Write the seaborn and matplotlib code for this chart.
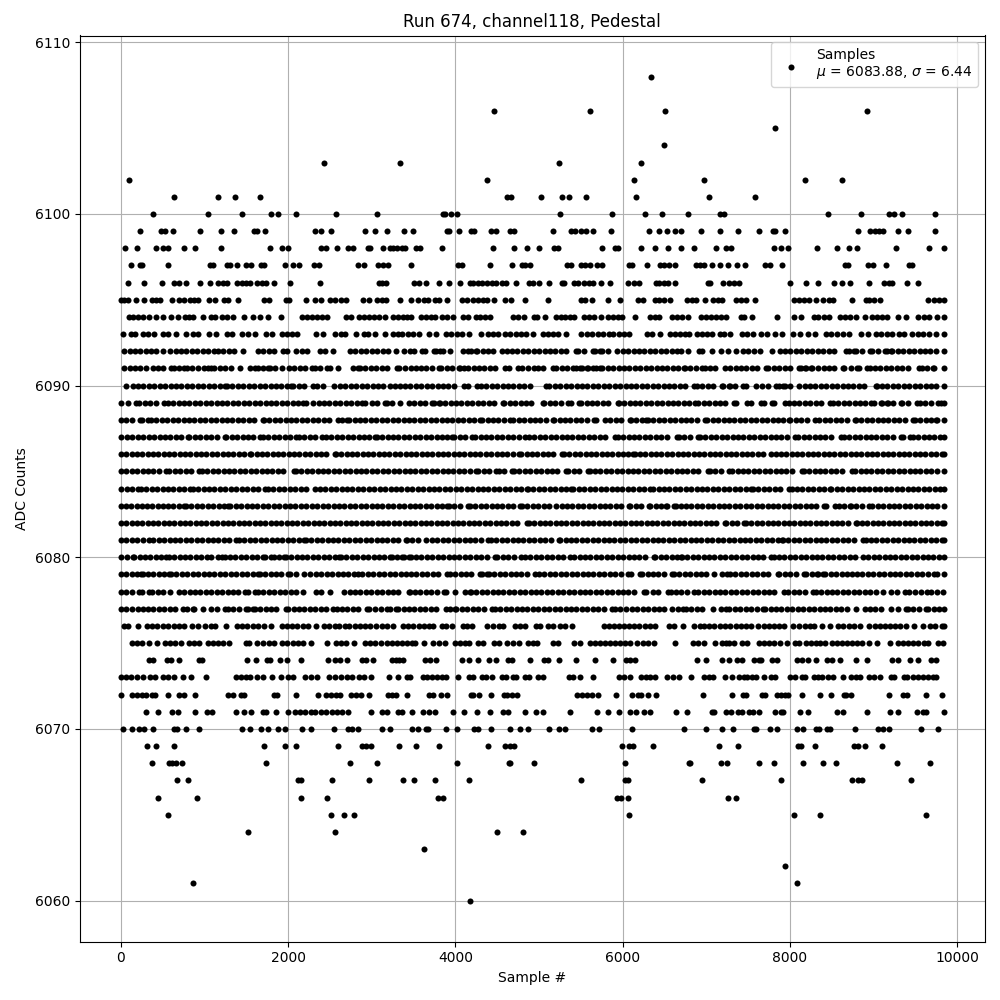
import matplotlib
matplotlib.use('Agg')
import matplotlib.pyplot as plt
import pandas as pd
import seaborn as sns

# sample numbers, one list per ADC level
s6060 = [4176]
s6061 = [864, 8084]
s6062 = [7940]
s6063 = [3624]
s6064 = [1524, 2556, 4500, 4812]
s6065 = [564, 2508, 2664, 2784, 6072, 8048, 8360, 9632]
s6066 = [444, 912, 2160, 2460, 3792, 3852, 5928, 5976, 6060, 7256, 7352]
s6067 = [672, 804, 2124, 2160, 2520, 2964, 3372, 3504, 3756, 4164, 5496, 6024, 6060, 6944, 7892, 8744, 8816, 8864, 9452]
s6068 = [372, 576, 612, 660, 732, 1740, 2736, 3060, 4020, 4644, 4656, 4944, 6024, 6792, 6800, 7172, 7244, 7628, 7808, 8156, 8396, 8552, 9284, 9680]
s6069 = [312, 420, 636, 1716, 1968, 2100, 2592, 2880, 2928, 2988, 3324, 3528, 3804, 4392, 4596, 4656, 4704, 5988, 6072, 6120, 6360,
         7148, 7376, 8096, 8132, 8300, 8768, 8816, 8900, 9104]
s6070 = [24, 132, 216, 276, 384, 636, 672, 780, 936, 1452, 1548, 1680, 1764, 1884, 1968, 2172, 2268, 2544, 2712, 2760, 2832, 3120, 3224,
         3480, 3552, 3648, 3672, 3888, 4020, 4224, 4272, 4428, 4656, 4776, 4872, 5124, 5244, 5316, 5628, 5712, 6108, 6728, 6992, 7184,
         7316, 7568, 7592, 7760, 7844, 8084, 8156, 8312, 8348, 8444, 8480, 8780, 9056, 9116, 9188, 9572, 9776]
s6071 = [300, 444, 612, 684, 888, 1032, 1092, 1380, 1476, 1560, 1704, 1740, 1856, 2004, 2088, 2148, 2208, 2268, 2316, 2388, 2448, 2520,
         2580, 2640, 2712, 2988, 3120, 3180, 3312, 3360, 3480, 3612, 3684, 3756, 3972, 4104, 4260, 4416, 4572, 4632, 4836, 4968, 5052,
         5376, 5688, 5820, 5952, 6084, 6156, 6252, 6324, 6636, 6768, 7064, 7088, 7232, 7292, 7376, 7424, 7508, 7556, 7632, 7820, 7892,
         7916, 8120, 8216, 8564, 8636, 8924, 9200, 9296, 9524, 9596, 9632, 9840]
s6072 = [0, 132, 192, 252, 300, 372, 408, 564, 696, 756, 888, 1284, 1344, 1440, 1476, 1836, 1872, 2100, 2352, 2448, 2508, 2568, 2616,
         2748, 2808, 2868, 2964, 3192, 3240, 3288, 3420, 3684, 3732, 3828, 3900, 4188, 4212, 4284, 4428, 4584, 4620, 4680, 4740, 5460,
         5508, 5568, 5628, 5700, 5916, 6108, 6180, 6216, 6300, 6396, 6956, 7304, 7436, 7472, 7664, 7700, 7844, 7892, 7940, 7976, 8144,
         8360, 8492, 8648, 8672, 8732, 9188, 9356, 9404, 9632, 9812]
s6073 = [0, 60, 120, 192, 264, 348, 408, 504, 564, 636, 744, 840, 1020, 1380, 1440, 1500, 1548, 1632, 1704, 1812, 1920, 2004, 2064, 2208,
         2268, 2340, 2484, 2556, 2628, 2700, 2760, 2844, 2904, 2988, 3204, 3316, 3420, 3456, 3612, 3660, 3720, 3780, 3840, 3892, 4032,
         4164, 4212, 4320, 4368, 4440, 4560, 4608, 4692, 4728, 4836, 4884, 4992, 5052, 5364, 5412, 5484, 5640, 5952, 6012, 6084, 6216,
         6276, 6324, 6384, 6528, 6600, 6672, 6812, 6968, 7028, 7076, 7220, 7304, 7388, 7448, 7484, 7544, 7592, 7688, 7772, 7820, 8000,
         8060, 8144, 8180, 8288, 8336, 8384, 8456, 8516, 8636, 8732, 8792, 8840, 8948, 9008, 9080, 9212, 9248, 9368, 9404, 9476, 9536,
         9596, 9656, 9716, 9752]
s6074 = [336, 384, 552, 600, 696, 936, 972, 1512, 1620, 1752, 1788, 1908, 1992, 2160, 2472, 2556, 2616, 2700, 2880, 2928, 3016, 3240, 3288,
         3324, 3372, 3636, 3696, 3768, 4080, 4164, 4272, 4404, 4488, 4632, 4680, 4896, 5064, 5112, 5244, 5448, 5664, 5880, 6036, 6084,
         6144, 6884, 6992, 7184, 7268, 7364, 7424, 7568, 7628, 7652, 7784, 7844, 8084, 8144, 8216, 8312, 8444, 8504, 8600, 8792, 8924,
         9224, 9296, 9440, 9536, 9692, 9752]
s6075 = [132, 192, 252, 336, 432, 528, 588, 648, 720, 816, 876, 936, 1044, 1104, 1164, 1224, 1296, 1500, 1536, 1632, 1704, 1776, 1836,
         1932, 1992, 2064, 2124, 2184, 2268, 2460, 2568, 2628, 2688, 2784, 2916, 2976, 3036, 3108, 3180, 3240, 3300, 3360, 3420, 3480,
         3516, 3624, 3732, 3804, 3876, 3996, 4056, 4116, 4164, 4272, 4332, 4464, 4524, 4620, 4692, 4764, 4872, 4932, 4980, 5172, 5232,
         5424, 5484, 5604, 5664, 5724, 5784, 5844, 5904, 5964, 6024, 6084, 6168, 6240, 6300, 6372, 6624, 6836, 6896, 6968, 7100, 7184,
         7232, 7268, 7328, 7424, 7484, 7628, 7688, 7748, 7808, 7880, 7964, 8060, 8108, 8192, 8252, 8312, 8360, 8420, 8504, 8564, 8624,
         8684, 8744, 8804, 8864, 8948, 9044, 9200, 9296, 9356, 9416, 9476, 9536, 9608, 9656, 9776, 9824]
s6076 = [36, 84, 204, 312, 372, 432, 504, 564, 636, 696, 756, 852, 924, 1008, 1080, 1128, 1260, 1392, 1452, 1512, 1584, 1644, 1716, 1800,
         1932, 1992, 2052, 2112, 2184, 2244, 2328, 2424, 2484, 2556, 2604, 2676, 2724, 2796, 2856, 2916, 2976, 3048, 3120, 3180, 3252,
         3372, 3432, 3492, 3564, 3624, 3684, 3732, 3840, 3888, 3960, 4092, 4140, 4200, 4380, 4452, 4524, 4572, 4716, 4776, 4836, 4968,
         5016, 5112, 5172, 5256, 5316, 5400, 5772, 5832, 5892, 5952, 6012, 6072, 6132, 6192, 6264, 6324, 6384, 6552, 6612, 6720, 6848,
         6920, 6968, 7028, 7088, 7160, 7220, 7280, 7352, 7412, 7472, 7532, 7616, 7688, 7748, 7808, 7868, 7928, 8036, 8108, 8180, 8240,
         8288, 8384, 8480, 8576, 8636, 8708, 8768, 8840, 8948, 9020, 9080, 9140, 9200, 9260, 9320, 9392, 9488, 9596, 9680, 9740, 9812, 9840]
s6077 = [0, 66, 132, 200, 260, 325, 390, 455, 520, 585, 650, 740, 788, 860, 880, 980, 1080, 1145, 1240, 1280, 1345, 1410, 1500, 1520, 1580,
         1600, 1665, 1730, 1795, 1860, 1972, 2000, 2065, 2130, 2195, 2260, 2325, 2390, 2455, 2540, 2580, 2645, 2710, 2775, 2840, 2940,
         2972, 3040, 3105, 3180, 3220, 3292, 3316, 3380, 3445, 3510, 3575, 3640, 3705, 3770, 3884, 3932, 3992, 4012, 4077, 4142, 4207,
         4272, 4337, 4432, 4472, 4537, 4602, 4667, 4732, 4797, 4862, 4927, 4992, 5057, 5122, 5187, 5252, 5317, 5382, 5447, 5512, 5577,
         5642, 5707, 5772, 5872, 5912, 5972, 6044, 6109, 6174, 6239, 6304, 6369, 6434, 6499, 6592, 6664, 6716, 6756, 6821, 6886, 6951,
         7084, 7172, 7236, 7276, 7341, 7406, 7471, 7536, 7601, 7676, 7704, 7769, 7834, 7899, 7964, 8029, 8094, 8159, 8224, 8289, 8354,
         8419, 8484, 8549, 8614, 8679, 8784, 8892, 8957, 9022, 9087, 9204, 9292, 9384, 9412, 9477, 9542, 9624, 9656, 9721, 9786, 9840]
s6078 = [0, 65, 130, 220, 252, 340, 372, 440, 505, 588, 692, 757, 822, 887, 952, 1017, 1082, 1147, 1212, 1277, 1342, 1407, 1488, 1520, 1600,
         1640, 1705, 1770, 1835, 1900, 1965, 2030, 2095, 2180, 2332, 2397, 2500, 2672, 2740, 2800, 2865, 2930, 2995, 3060, 3125, 3190,
         3255, 3320, 3440, 3452, 3517, 3582, 3647, 3712, 3777, 3860, 3884, 4000, 4112, 4172, 4184, 4249, 4314, 4379, 4444, 4509, 4574,
         4639, 4704, 4769, 4834, 4899, 4964, 5029, 5094, 5159, 5224, 5289, 5354, 5419, 5484, 5549, 5614, 5679, 5744, 5809, 5874, 5939,
         6004, 6069, 6134, 6252, 6284, 6364, 6428, 6540, 6572, 6637, 6702, 6767, 6852, 6904, 6969, 7034, 7099, 7164, 7229, 7294, 7359,
         7424, 7489, 7554, 7619, 7684, 7749, 7814, 7932, 7980, 8045, 8110, 8175, 8276, 8308, 8373, 8438, 8503, 8568, 8633, 8698, 8763,
         8828, 8893, 8958, 9023, 9116, 9204, 9284, 9372, 9428, 9492, 9570, 9644, 9684, 9760, 9828]
s6079 = [0, 65, 130, 195, 240, 260, 325, 390, 455, 520, 580, 600, 665, 730, 795, 860, 925, 990, 1055, 1120, 1185, 1250, 1315, 1380, 1445,
         1510, 1575, 1640, 1660, 1725, 1790, 1855, 1920, 2000, 2020, 2100, 2188, 2260, 2332, 2397, 2462, 2527, 2592, 2657, 2722, 2787,
         2840, 2888, 2953, 3018, 3083, 3148, 3213, 3278, 3344, 3404, 3469, 3534, 3599, 3664, 3729, 3794, 3900, 3932, 3997, 4062, 4127,
         4192, 4300, 4316, 4380, 4400, 4465, 4530, 4595, 4660, 4725, 4790, 4855, 4956, 5000, 5065, 5130, 5195, 5260, 5325, 5390, 5455,
         5520, 5585, 5650, 5715, 5780, 5845, 5910, 5975, 6068, 6100, 6204, 6232, 6297, 6362, 6427, 6492, 6592, 6612, 6677, 6742, 6807,
         6872, 6937, 7002, 7092, 7184, 7252, 7284, 7349, 7414, 7479, 7544, 7609, 7674, 7739, 7852, 7872, 7937, 8002, 8067, 8172, 8196,
         8260, 8324, 8340, 8396, 8424, 8489, 8554, 8619, 8684, 8736, 8801, 8866, 8931, 8996, 9061, 9126, 9191, 9256, 9321, 9386, 9451,
         9516, 9581, 9646, 9724, 9764, 9840]
s6080 = [0, 70, 140, 160, 225, 290, 355, 420, 485, 540, 572, 637, 702, 767, 832, 897, 962, 1027, 1080, 1160, 1212, 1240, 1305, 1370, 1435,
         1500, 1565, 1630, 1700, 1720, 1800, 1828, 1893, 1948, 1972, 2037, 2102, 2167, 2232, 2297, 2362, 2427, 2492, 2557, 2612, 2632,
         2697, 2762, 2827, 2892, 2957, 3022, 3087, 3152, 3220, 3240, 3300, 3364, 3380, 3440, 3464, 3529, 3594, 3659, 3724, 3789, 3854,
         3919, 3984, 4049, 4114, 4179, 4244, 4309, 4374, 4472, 4500, 4565, 4630, 4695, 4784, 4832, 4897, 4962, 5027, 5092, 5157, 5222,
         5287, 5372, 5420, 5485, 5550, 5615, 5680, 5745, 5810, 5875, 5940, 6005, 6070, 6135, 6200, 6265, 6372, 6392, 6457, 6522, 6587,
         6652, 6696, 6708, 6773, 6838, 6903, 6968, 7033, 7098, 7163, 7228, 7293, 7358, 7423, 7488, 7553, 7618, 7683, 7772, 7804, 7869,
         7934, 7999, 8064, 8129, 8194, 8259, 8324, 8389, 8454, 8519, 8584, 8649, 8714, 8779, 8876, 8936, 9001, 9066, 9131, 9196, 9261,
         9326, 9391, 9456, 9521, 9586, 9651, 9716, 9781, 9840]
s6081 = [0, 65, 130, 195, 260, 340, 388, 453, 518, 583, 648, 713, 778, 843, 908, 973, 1038, 1103, 1160, 1228, 1293, 1380, 1412, 1477, 1542,
         1607, 1672, 1737, 1802, 1867, 1932, 1997, 2062, 2127, 2188, 2212, 2277, 2342, 2407, 2472, 2537, 2602, 2667, 2732, 2797, 2862,
         2927, 2992, 3057, 3122, 3187, 3252, 3317, 3404, 3420, 3485, 3550, 3652, 3720, 3785, 3850, 3915, 3980, 4045, 4110, 4175, 4240,
         4305, 4392, 4424, 4489, 4554, 4619, 4684, 4749, 4814, 4879, 4944, 5009, 5074, 5139, 5240, 5252, 5317, 5382, 5447, 5512, 5577,
         5642, 5707, 5772, 5837, 5902, 5967, 6032, 6097, 6162, 6227, 6292, 6357, 6422, 6487, 6552, 6617, 6682, 6747, 6812, 6877, 6942,
         7007, 7072, 7137, 7202, 7267, 7332, 7397, 7462, 7527, 7592, 7657, 7722, 7787, 7852, 7904, 7916, 7981, 8046, 8111, 8176, 8241,
         8306, 8371, 8436, 8501, 8566, 8631, 8696, 8761, 8876, 8904, 8969, 9034, 9099, 9164, 9229, 9294, 9359, 9424, 9489, 9554, 9619,
         9684, 9749, 9814, 9840]
s6082 = [0, 64, 128, 192, 256, 320, 384, 448, 512, 576, 640, 704, 768, 832, 896, 960, 1024, 1088, 1152, 1216, 1280, 1344, 1408, 1472, 1536,
         1600, 1664, 1728, 1792, 1856, 1920, 1984, 2048, 2112, 2176, 2240, 2304, 2368, 2432, 2496, 2560, 2624, 2688, 2752, 2816, 2880,
         2944, 3008, 3072, 3136, 3200, 3264, 3328, 3392, 3456, 3520, 3584, 3648, 3712, 3776, 3840, 3904, 3968, 4032, 4096, 4160, 4224,
         4288, 4352, 4416, 4480, 4544, 4608, 4672, 4736, 4852, 4880, 4944, 5008, 5072, 5136, 5200, 5264, 5328, 5392, 5456, 5520, 5584,
         5648, 5712, 5776, 5840, 5904, 5968, 6032, 6096, 6160, 6224, 6288, 6352, 6416, 6480, 6544, 6608, 6672, 6736, 6800, 6864, 6928,
         6992, 7056, 7120, 7224, 7240, 7304, 7368, 7452, 7476, 7540, 7604, 7668, 7732, 7796, 7860, 7924, 7988, 8052, 8116, 8180, 8244,
         8308, 8372, 8436, 8500, 8564, 8628, 8692, 8784, 8796, 8860, 8924, 8988, 9052, 9116, 9180, 9244, 9308, 9372, 9436, 9500, 9564,
         9628, 9692, 9756, 9820, 9840]
s6083 = [0, 63, 126, 189, 252, 315, 378, 441, 504, 567, 630, 693, 760, 780, 845, 910, 975, 1040, 1105, 1170, 1235, 1280, 1308, 1373, 1438,
         1503, 1568, 1633, 1698, 1763, 1828, 1893, 1958, 2023, 2088, 2153, 2218, 2283, 2348, 2413, 2478, 2543, 2608, 2673, 2738, 2803,
         2868, 2933, 2998, 3063, 3128, 3193, 3258, 3323, 3388, 3453, 3518, 3583, 3648, 3713, 3778, 3843, 3900, 3920, 3985, 4050, 4148,
         4172, 4237, 4302, 4367, 4432, 4497, 4562, 4627, 4692, 4772, 4796, 4861, 4926, 4991, 5056, 5120, 5204, 5269, 5334, 5399, 5464,
         5529, 5594, 5659, 5724, 5789, 5854, 5919, 5984, 6072, 6092, 6157, 6222, 6312, 6332, 6397, 6462, 6524, 6532, 6612, 6632, 6692,
         6757, 6822, 6887, 6952, 7017, 7082, 7147, 7212, 7277, 7342, 7407, 7472, 7537, 7602, 7667, 7732, 7797, 7862, 7927, 7992, 8057,
         8122, 8187, 8252, 8317, 8412, 8436, 8544, 8584, 8649, 8716, 8728, 8793, 8858, 8948, 8984, 9049, 9114, 9179, 9244, 9309, 9374,
         9439, 9504, 9569, 9634, 9699, 9764, 9840]
s6084 = [8, 70, 135, 200, 240, 305, 370, 435, 500, 565, 630, 695, 760, 828, 860, 925, 990, 1055, 1120, 1185, 1250, 1315, 1380, 1445, 1510,
         1575, 1640, 1720, 1760, 1825, 1890, 1955, 2020, 2085, 2150, 2215, 2320, 2380, 2445, 2510, 2575, 2640, 2705, 2770, 2835, 2900,
         2965, 3030, 3095, 3160, 3225, 3290, 3355, 3420, 3485, 3550, 3615, 3680, 3745, 3810, 3875, 3940, 4005, 4070, 4135, 4200, 4265,
         4330, 4395, 4460, 4525, 4590, 4655, 4720, 4785, 4852, 4868, 4933, 4998, 5063, 5128, 5193, 5258, 5323, 5380, 5412, 5477, 5542,
         5607, 5672, 5737, 5802, 5867, 5932, 5997, 6062, 6127, 6192, 6257, 6332, 6364, 6429, 6494, 6559, 6624, 6689, 6754, 6819, 6884,
         6949, 7014, 7079, 7144, 7209, 7274, 7339, 7404, 7469, 7536, 7556, 7621, 7686, 7751, 7816, 7881, 7992, 8020, 8085, 8150, 8215,
         8280, 8345, 8410, 8476, 8496, 8561, 8626, 8691, 8756, 8821, 8886, 8951, 9016, 9081, 9146, 9211, 9276, 9341, 9406, 9471, 9536,
         9601, 9666, 9731, 9796, 9840]
s6085 = [0, 65, 130, 195, 260, 325, 390, 455, 540, 580, 645, 710, 775, 840, 940, 968, 1033, 1098, 1163, 1228, 1293, 1358, 1423, 1488, 1553,
         1618, 1683, 1748, 1813, 1878, 1943, 2068, 2092, 2157, 2222, 2287, 2352, 2417, 2482, 2547, 2612, 2677, 2742, 2807, 2872, 2937,
         3002, 3067, 3132, 3197, 3262, 3327, 3392, 3457, 3522, 3587, 3652, 3717, 3782, 3847, 3912, 3977, 4042, 4107, 4172, 4252, 4276,
         4341, 4406, 4484, 4516, 4581, 4672, 4700, 4765, 4830, 4895, 4960, 5025, 5090, 5155, 5220, 5320, 5352, 5417, 5482, 5580, 5604,
         5669, 5734, 5799, 5864, 5929, 5994, 6059, 6124, 6189, 6254, 6319, 6384, 6449, 6514, 6579, 6644, 6709, 6774, 6839, 6904, 7024,
         7044, 7109, 7174, 7272, 7308, 7373, 7438, 7503, 7568, 7633, 7698, 7763, 7828, 7893, 7958, 8023, 8140, 8164, 8229, 8294, 8359,
         8424, 8489, 8554, 8619, 8740, 8780, 8845, 8910, 8975, 9040, 9105, 9170, 9235, 9300, 9365, 9430, 9495, 9560, 9625, 9690, 9755, 9840]
s6086 = [0, 64, 128, 192, 256, 320, 384, 448, 512, 576, 640, 704, 768, 832, 896, 960, 1024, 1088, 1152, 1216, 1280, 1344, 1408, 1472, 1540,
         1560, 1624, 1688, 1752, 1816, 1880, 1944, 2008, 2072, 2136, 2200, 2264, 2328, 2392, 2456, 2560, 2572, 2636, 2700, 2764, 2828,
         2892, 2956, 3020, 3084, 3148, 3212, 3276, 3340, 3404, 3468, 3532, 3596, 3660, 3724, 3788, 3852, 3916, 3980, 4044, 4108, 4172,
         4236, 4300, 4364, 4428, 4492, 4556, 4620, 4684, 4756, 4788, 4852, 4916, 4980, 5044, 5108, 5172, 5276, 5300, 5364, 5428, 5492,
         5556, 5620, 5684, 5748, 5812, 5876, 5940, 6004, 6068, 6124, 6144, 6208, 6272, 6336, 6400, 6464, 6528, 6592, 6656, 6720, 6784,
         6848, 6912, 6976, 7040, 7104, 7168, 7232, 7296, 7360, 7424, 7488, 7552, 7616, 7680, 7772, 7828, 7892, 7956, 8020, 8084, 8148,
         8212, 8276, 8340, 8404, 8468, 8532, 8596, 8660, 8724, 8788, 8852, 8916, 8980, 9044, 9108, 9172, 9236, 9300, 9364, 9428, 9492,
         9556, 9620, 9684, 9748, 9812, 9840]
s6087 = [8, 73, 138, 203, 268, 333, 398, 463, 528, 593, 658, 723, 800, 820, 885, 950, 1015, 1080, 1145, 1240, 1260, 1325, 1390, 1455, 1520,
         1585, 1660, 1700, 1765, 1830, 1895, 1960, 2025, 2100, 2130, 2195, 2260, 2325, 2400, 2452, 2517, 2582, 2647, 2712, 2777, 2842,
         2907, 2972, 3040, 3060, 3125, 3190, 3255, 3320, 3385, 3450, 3515, 3580, 3645, 3710, 3775, 3840, 3905, 3964, 3988, 4053, 4118,
         4204, 4236, 4301, 4366, 4431, 4496, 4561, 4626, 4691, 4756, 4832, 4880, 4945, 5010, 5075, 5140, 5205, 5270, 5335, 5400, 5465,
         5530, 5595, 5660, 5725, 5790, 5908, 5940, 6005, 6070, 6135, 6200, 6265, 6330, 6395, 6460, 6525, 6644, 6672, 6737, 6802, 6896,
         6924, 6989, 7054, 7119, 7184, 7249, 7314, 7379, 7444, 7509, 7574, 7639, 7704, 7769, 7834, 7899, 7964, 8064, 8100, 8165, 8230,
         8295, 8360, 8425, 8490, 8616, 8644, 8709, 8774, 8839, 8904, 8969, 9034, 9099, 9164, 9229, 9324, 9352, 9432, 9468, 9533, 9598,
         9663, 9728, 9793, 9840]
s6088 = [0, 65, 130, 228, 252, 330, 360, 425, 490, 555, 620, 685, 750, 815, 880, 945, 1010, 1075, 1140, 1205, 1270, 1335, 1400, 1465, 1530,
         1595, 1700, 1710, 1775, 1840, 1905, 1970, 2035, 2100, 2165, 2230, 2295, 2360, 2425, 2490, 2600, 2640, 2700, 2730, 2795, 2860,
         2925, 2990, 3055, 3120, 3185, 3250, 3315, 3380, 3445, 3510, 3575, 3640, 3705, 3770, 3835, 3900, 3965, 4030, 4095, 4160, 4225,
         4300, 4320, 4385, 4450, 4515, 4580, 4652, 4692, 4757, 4822, 4887, 4952, 5017, 5082, 5172, 5180, 5245, 5310, 5375, 5440, 5505,
         5570, 5652, 5684, 5792, 5852, 5917, 5982, 6084, 6100, 6165, 6230, 6284, 6300, 6365, 6430, 6495, 6560, 6625, 6692, 6757, 6822,
         6887, 6980, 7012, 7077, 7142, 7207, 7272, 7337, 7402, 7467, 7532, 7597, 7662, 7727, 7792, 7857, 7922, 7992, 8004, 8069, 8134,
         8199, 8304, 8352, 8417, 8482, 8547, 8612, 8677, 8772, 8788, 8853, 8918, 8983, 9048, 9113, 9178, 9243, 9308, 9373, 9476, 9492,
         9557, 9622, 9687, 9744, 9764, 9840]
s6089 = [0, 90, 180, 220, 285, 350, 415, 520, 560, 625, 690, 755, 820, 885, 950, 1015, 1080, 1145, 1210, 1275, 1340, 1405, 1470, 1535, 1600,
         1665, 1730, 1795, 1860, 1925, 1990, 2055, 2120, 2180, 2220, 2300, 2365, 2430, 2495, 2560, 2625, 2690, 2755, 2820, 2880, 2920,
         3000, 3065, 3160, 3180, 3245, 3340, 3444, 3509, 3574, 3639, 3724, 3744, 3804, 3812, 3877, 3942, 4007, 4072, 4137, 4202, 4267,
         4332, 4397, 4462, 4564, 4584, 4649, 4714, 4779, 4844, 4909, 5044, 5064, 5129, 5194, 5259, 5352, 5388, 5480, 5504, 5569, 5634,
         5699, 5764, 5829, 5940, 5952, 6017, 6082, 6147, 6212, 6277, 6342, 6407, 6472, 6537, 6602, 6667, 6732, 6797, 6864, 6904, 6969,
         7034, 7099, 7164, 7229, 7332, 7356, 7484, 7540, 7652, 7684, 7788, 7812, 7944, 7984, 8049, 8114, 8179, 8244, 8309, 8374, 8476,
         8512, 8577, 8642, 8707, 8772, 8837, 8902, 8972, 9004, 9084, 9096, 9156, 9172, 9237, 9324, 9344, 9409, 9516, 9552, 9617, 9682,
         9772, 9804, 9840]
s6090 = [68, 140, 205, 270, 335, 400, 465, 530, 595, 660, 725, 790, 855, 920, 985, 1050, 1115, 1180, 1240, 1270, 1335, 1400, 1465, 1530, 1595,
         1660, 1725, 1790, 1855, 1920, 1985, 2040, 2060, 2125, 2190, 2300, 2340, 2420, 2552, 2620, 2685, 2750, 2815, 2880, 2945, 3010,
         3075, 3140, 3220, 3280, 3332, 3397, 3462, 3527, 3592, 3657, 3722, 3787, 3852, 3917, 3982, 4100, 4152, 4260, 4304, 4369, 4434,
         4499, 4564, 4629, 4694, 4759, 4824, 4889, 5080, 5124, 5189, 5254, 5319, 5384, 5449, 5514, 5579, 5644, 5709, 5774, 5839, 5904,
         5969, 6034, 6099, 6164, 6229, 6294, 6359, 6424, 6489, 6554, 6619, 6684, 6749, 6856, 6888, 6953, 7018, 7083, 7192, 7200, 7276,
         7280, 7345, 7444, 7476, 7596, 7668, 7733, 7836, 7864, 7916, 7936, 8001, 8112, 8184, 8244, 8304, 8369, 8434, 8499, 8564, 8629,
         8694, 8759, 8824, 8889, 9024, 9036, 9101, 9166, 9231, 9296, 9361, 9426, 9491, 9556, 9621, 9686, 9751, 9840]
s6091 = [40, 105, 170, 235, 300, 380, 445, 510, 600, 640, 700, 760, 790, 855, 920, 1000, 1040, 1080, 1120, 1185, 1250, 1315, 1420, 1540, 1600,
         1640, 1700, 1760, 1780, 1845, 1930, 2010, 2075, 2140, 2205, 2290, 2320, 2385, 2460, 2500, 2600, 2780, 2840, 2860, 2925, 2990,
         3055, 3120, 3185, 3308, 3324, 3400, 3472, 3524, 3589, 3654, 3719, 3800, 3832, 3897, 3962, 4044, 4060, 4108, 4152, 4217, 4282,
         4347, 4412, 4477, 4592, 4644, 4744, 4800, 4870, 4940, 4984, 5049, 5172, 5204, 5269, 5334, 5412, 5440, 5492, 5512, 5572, 5580,
         5644, 5684, 5732, 5756, 5821, 5886, 5951, 6016, 6081, 6146, 6211, 6276, 6341, 6406, 6471, 6536, 6601, 6666, 6732, 6748, 6808,
         6876, 6944, 6980, 7040, 7100, 7220, 7285, 7350, 7415, 7480, 7545, 7610, 7712, 7740, 7805, 7870, 7935, 8000, 8104, 8132, 8184,
         8196, 8252, 8268, 8340, 8412, 8464, 8530, 8632, 8652, 8724, 8796, 8824, 8916, 8952, 9017, 9082, 9147, 9212, 9277, 9342, 9407,
         9544, 9576, 9644, 9712, 9724, 9840]
s6092 = [40, 105, 170, 235, 300, 365, 420, 500, 590, 655, 720, 785, 850, 915, 980, 1045, 1120, 1160, 1225, 1290, 1355, 1460, 1640, 1705, 1770,
         1835, 1940, 1990, 2100, 2165, 2230, 2380, 2440, 2540, 2740, 2805, 2870, 2935, 3000, 3065, 3130, 3195, 3292, 3380, 3452, 3500,
         3604, 3632, 3740, 3764, 3820, 3852, 3940, 4092, 4152, 4192, 4244, 4260, 4325, 4390, 4455, 4552, 4612, 4677, 4742, 4807, 4872,
         4937, 5002, 5067, 5132, 5197, 5262, 5327, 5444, 5472, 5540, 5644, 5672, 5724, 5752, 5820, 5932, 6000, 6065, 6130, 6195, 6260,
         6325, 6390, 6455, 6520, 6585, 6650, 6692, 6780, 6916, 6952, 7064, 7176, 7264, 7350, 7436, 7504, 7570, 7640, 7788, 7876, 7941,
         8006, 8071, 8136, 8201, 8266, 8331, 8396, 8461, 8526, 8672, 8712, 8764, 8784, 8860, 8952, 8976, 9050, 9132, 9164, 9204, 9224,
         9289, 9354, 9419, 9484, 9549, 9614, 9679, 9744, 9840]
s6093 = [24, 124, 164, 264, 324, 392, 504, 564, 664, 784, 864, 924, 1056, 1144, 1264, 1332, 1452, 1524, 1604, 1732, 1812, 1924, 1984, 2044,
         2112, 2328, 2412, 2556, 2628, 2684, 2808, 2904, 2952, 3036, 3164, 3252, 3312, 3360, 3432, 3492, 3564, 3684, 3768, 3888, 3948,
         4020, 4080, 4164, 4308, 4392, 4452, 4512, 4596, 4656, 4728, 4788, 4848, 4932, 5052, 5112, 5172, 5232, 5328, 5496, 5568, 5628,
         5700, 5760, 5832, 5880, 5952, 6012, 6072, 6288, 6348, 6444, 6564, 6624, 6684, 6744, 6792, 6884, 6944, 7004, 7064, 7160, 7208,
         7280, 7424, 7484, 7556, 7652, 7724, 7820, 7904, 8036, 8120, 8216, 8300, 8432, 8492, 8564, 8636, 8708, 8852, 8936, 9032, 9092,
         9164, 9224, 9308, 9368, 9464, 9536, 9596, 9668, 9752, 9840]
s6094 = [96, 144, 204, 264, 336, 420, 504, 600, 684, 768, 816, 864, 984, 1080, 1128, 1212, 1272, 1344, 1476, 1584, 1668, 1764, 1920, 2172,
         2224, 2280, 2340, 2400, 2460, 2688, 2748, 2844, 2904, 2964, 3024, 3084, 3156, 3252, 3312, 3372, 3420, 3468, 3588, 3648, 3708,
         3756, 3840, 3900, 3972, 4092, 4152, 4248, 4296, 4356, 4416, 4692, 4752, 4824, 4944, 4980, 5076, 5208, 5268, 5316, 5376, 5424,
         5532, 5592, 5652, 5736, 5820, 5880, 5940, 5988, 6144, 6324, 6384, 6432, 6588, 6648, 6708, 6776, 6932, 6992, 7052, 7112, 7172,
         7232, 7412, 7448, 7544, 7844, 8048, 8132, 8288, 8336, 8408, 8468, 8600, 8660, 8720, 8792, 8900, 8984, 9044, 9104, 9164, 9296,
         9392, 9528, 9608, 9668, 9764, 9840]
s6095 = [0, 36, 84, 176, 276, 372, 424, 468, 612, 696, 756, 828, 876, 924, 1056, 1128, 1236, 1284, 1404, 1716, 1776, 1976, 2012, 2216, 2316,
         2388, 2504, 2556, 2628, 2696, 2892, 2964, 3060, 3120, 3168, 3336, 3468, 3552, 3624, 3672, 3756, 3804, 3900, 4080, 4140, 4212,
         4272, 4332, 4380, 4464, 4596, 4668, 4836, 5112, 5496, 5544, 5628, 5820, 5964, 6180, 6240, 6384, 6432, 6492, 6564, 6768, 6824,
         6872, 6980, 7076, 7136, 7184, 7352, 7412, 7472, 7580, 8048, 8108, 8168, 8228, 8312, 8396, 8468, 8516, 8744, 8912, 8948, 9008,
         9080, 9656, 9728, 9788, 9836]
s6096 = [84, 272, 492, 636, 696, 780, 948, 1068, 1164, 1224, 1272, 1392, 1452, 1500, 1548, 1624, 1684, 1736, 1836, 2028, 2376, 3084, 3124,
         3168, 3504, 3564, 3648, 3804, 3924, 4056, 4176, 4212, 4272, 4320, 4380, 4440, 4488, 4560, 4608, 4728, 4884, 4932, 5004, 5124,
         5280, 5304, 5424, 5472, 5532, 5592, 5640, 5736, 5844, 6060, 6132, 6192, 6396, 6432, 6492, 6540, 6624, 7016, 7040, 7196, 7268,
         7328, 7388, 8000, 8192, 8336, 8528, 8624, 8720, 8948, 9128, 9188, 9224, 9404, 9528]
s6097 = [120, 224, 256, 564, 1072, 1104, 1264, 1304, 1392, 1500, 1560, 1676, 1712, 1964, 2064, 2136, 2304, 2364, 2832, 2904, 3076, 3132,
         3200, 3468, 4032, 4080, 4416, 4680, 4800, 4836, 4896, 5340, 5388, 5496, 5544, 5604, 5688, 5748, 6072, 6108, 6288, 6444, 6492,
         6552, 6624, 6872, 6920, 6968, 7064, 7160, 7256, 7364, 7460, 7700, 7760, 7904, 8660, 8696, 8936, 8996, 9152, 9428, 9464]
s6098 = [48, 192, 420, 504, 564, 756, 888, 1200, 1788, 1928, 2004, 2388, 2452, 2580, 2712, 2772, 2952, 2984, 3132, 3216, 3260, 3308, 3356,
         3392, 3524, 3580, 3840, 4452, 4704, 4860, 5004, 5184, 5232, 5748, 5904, 5940, 6216, 6384, 6540, 6696, 6848, 7112, 7232, 7292,
         7808, 7892, 7976, 8324, 8564, 8708, 8804, 9272, 9668, 9836]
s6099 = [228, 484, 524, 624, 948, 1200, 1356, 1592, 1632, 1728, 2324, 2392, 2508, 2916, 3036, 3180, 3384, 3492, 3900, 3924, 4044, 4192,
         4224, 4428, 4488, 4656, 4704, 5172, 5388, 5436, 5496, 5556, 5640, 5856, 6312, 6432, 6528, 6624, 6696, 6932, 7168, 7376, 7628,
         7796, 7820, 7940, 8816, 8960, 9020, 9068, 9116, 9296, 9416, 9740]
s6100 = [384, 1044, 1452, 1800, 1884, 2100, 2568, 3060, 3852, 3876, 3948, 4020, 5256, 5868, 6264, 6468, 6776, 7168, 7208, 8456, 8852, 9188,
         9248, 9344, 9740]
s6101 = [636, 1164, 1368, 1668, 4616, 4664, 5028, 5280, 5364, 5556, 6156, 7028, 7580]
s6102 = [96, 4380, 6132, 6968, 8180, 8624]
s6103 = [2424, 3336, 5244, 6216]
s6104 = [6492]
s6105 = [7820]
s6106 = [4464, 5604, 6504, 8924]
s6108 = [6336]

adc_levels = [6060, 6061, 6062, 6063, 6064, 6065, 6066, 6067, 6068, 6069, 6070, 6071, 6072, 6073, 6074, 6075, 6076, 6077,
              6078, 6079, 6080, 6081, 6082, 6083, 6084, 6085, 6086, 6087, 6088, 6089, 6090, 6091, 6092, 6093, 6094, 6095,
              6096, 6097, 6098, 6099, 6100, 6101, 6102, 6103, 6104, 6105, 6106, 6108]
sample_lists = [s6060, s6061, s6062, s6063, s6064, s6065, s6066, s6067, s6068, s6069, s6070, s6071, s6072, s6073, s6074,
                s6075, s6076, s6077, s6078, s6079, s6080, s6081, s6082, s6083, s6084, s6085, s6086, s6087, s6088, s6089,
                s6090, s6091, s6092, s6093, s6094, s6095, s6096, s6097, s6098, s6099, s6100, s6101, s6102, s6103, s6104,
                s6105, s6106, s6108]

df = pd.DataFrame([(s, lvl) for lvl, lst in zip(adc_levels, sample_lists) for s in lst], columns=['sample', 'adc'])

fig, ax = plt.subplots(figsize=(10, 10))
sns.scatterplot(data=df, x='sample', y='adc', color='k', s=19, linewidth=0, ax=ax,
                label='Samples\n$\\mu$ = 6083.88, $\\sigma$ = 6.44')
ax.set_axisbelow(True)
ax.grid(True)
ax.set_title('Run 674, channel118, Pedestal')
ax.set_xlabel('Sample #')
ax.set_ylabel('ADC Counts')
ax.legend(loc='upper right')
plt.tight_layout()
plt.subplots_adjust(top=0.9645)
plt.savefig('out.png', dpi=100)
